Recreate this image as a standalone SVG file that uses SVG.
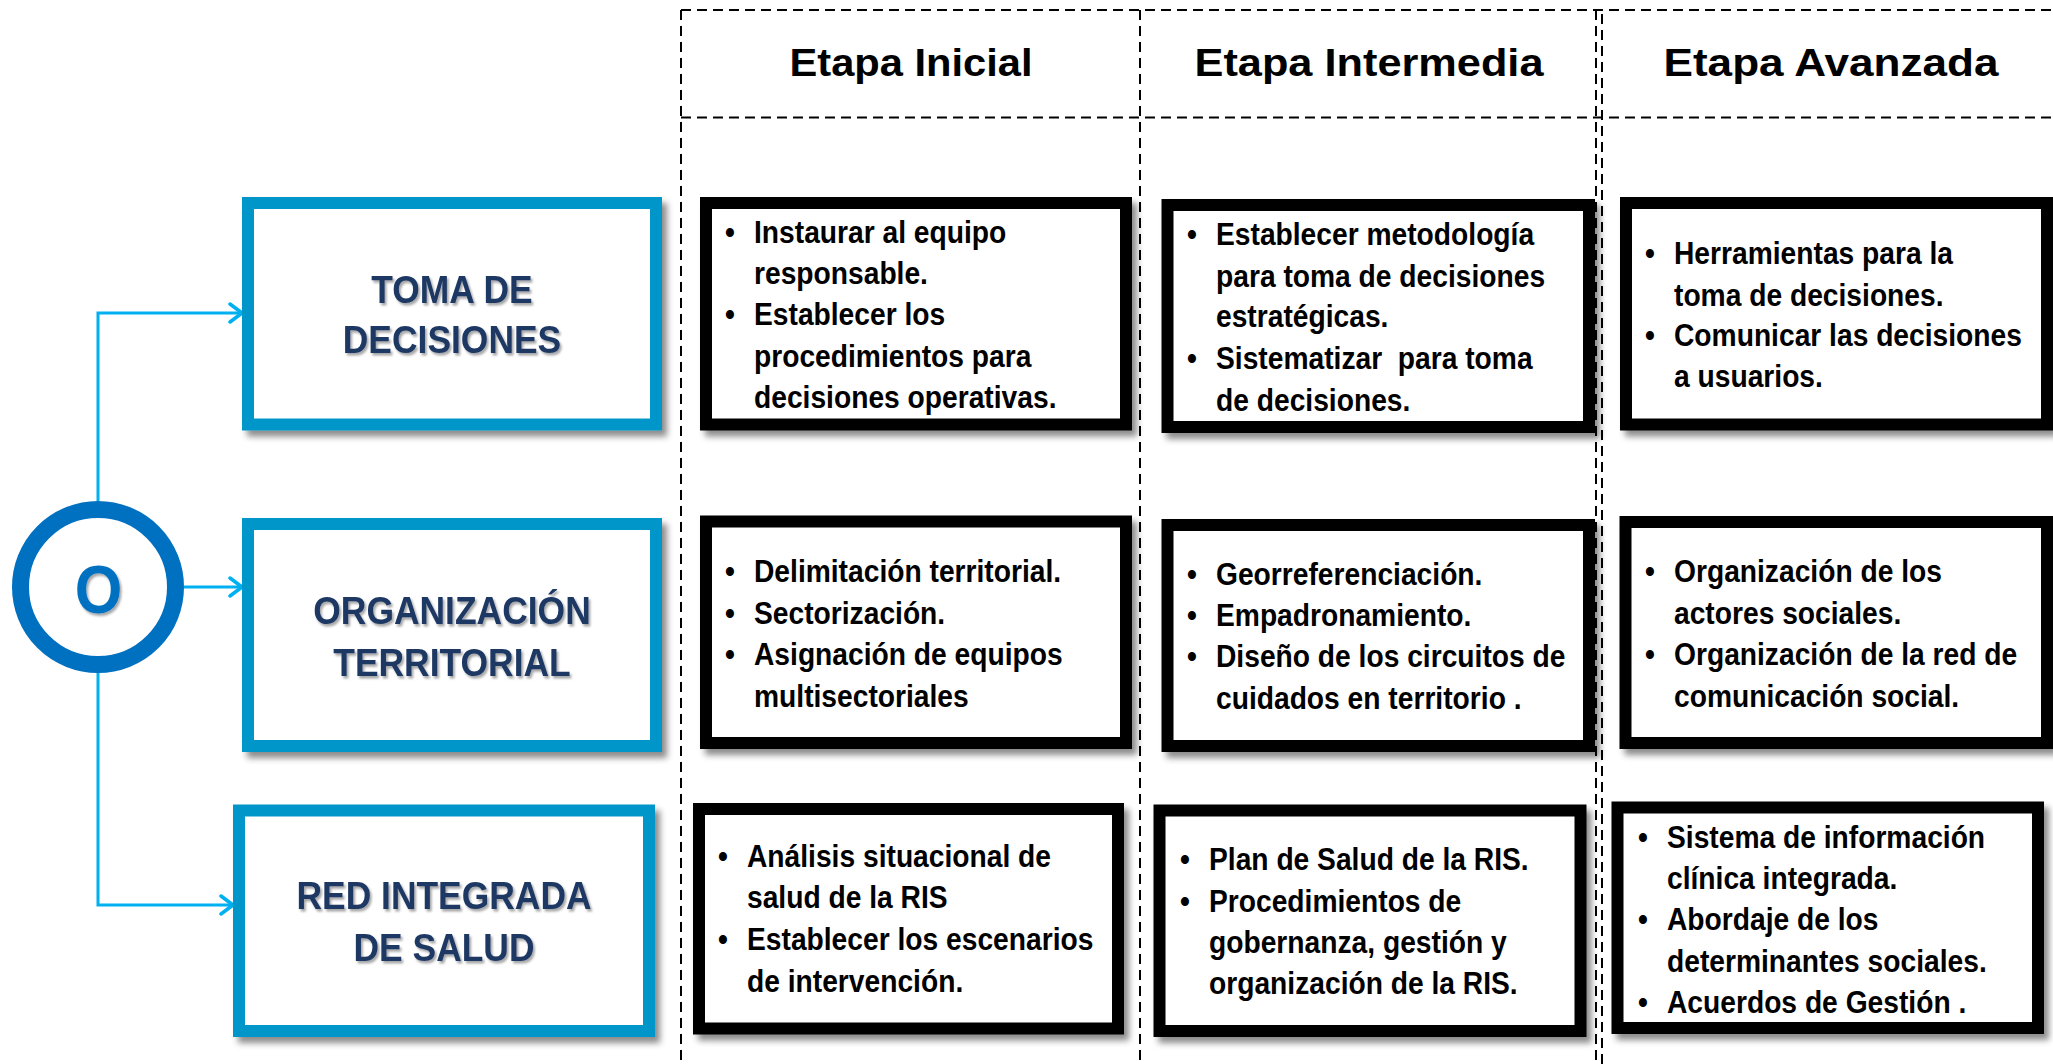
<svg xmlns="http://www.w3.org/2000/svg" width="2053" height="1064" viewBox="0 0 2053 1064">
  <defs>
    <style>
      .grid { stroke:#000; stroke-width:2; stroke-dasharray:10 6; fill:none; }
      .hdr { font-family:"Liberation Sans", Arial, sans-serif; font-weight:bold; font-size:38.5px; fill:#000; text-anchor:middle; }
      .bluebox { fill:#fff; stroke:#0096C9; stroke-width:12; filter:url(#shadow); }
      .blackbox { fill:#fff; stroke:#000; stroke-width:12; filter:url(#shadow); }
      .ttl { font-family:"Liberation Sans", Arial, sans-serif; font-weight:bold; font-size:38.5px; fill:#1F3864; text-anchor:middle; filter:url(#tshadow); }
      .b { font-family:"Liberation Sans", Arial, sans-serif; font-weight:bold; font-size:31px; fill:#000; white-space:pre; }
      .conn { fill:none; stroke:#00B0F0; stroke-width:3; }
    </style>
    <filter id="shadow" x="-5%" y="-5%" width="115%" height="120%">
      <feDropShadow dx="5" dy="6" stdDeviation="3" flood-color="#000" flood-opacity="0.45"/>
    </filter>
    <filter id="tshadow" x="-10%" y="-20%" width="120%" height="150%">
      <feDropShadow dx="2" dy="2.5" stdDeviation="1.3" flood-color="#000" flood-opacity="0.35"/>
    </filter>
    <marker id="arrow" viewBox="0 0 16 22" refX="14" refY="11" markerWidth="16" markerHeight="22" markerUnits="userSpaceOnUse" orient="auto">
      <path d="M2,2 L14,11 L2,20" fill="none" stroke="#00B0F0" stroke-width="3.5" stroke-linecap="round" stroke-linejoin="round"/>
    </marker>
  </defs>

  <rect width="2053" height="1064" fill="#fff"/>

  <!-- grid -->
  <g id="grid">
    <line class="grid" x1="681" y1="10" x2="2053" y2="10"/>
    <line class="grid" x1="681" y1="117.5" x2="2053" y2="117.5"/>
    <line class="grid" x1="681" y1="10" x2="681" y2="1064"/>
    <line class="grid" x1="1140" y1="10" x2="1140" y2="1064"/>
    <line class="grid" x1="1596" y1="10" x2="1596" y2="1064"/>
    <line class="grid" x1="1602" y1="14" x2="1602" y2="1064"/>
  </g>

  <!-- headers -->
  <g id="headers">
    <text class="hdr" x="911" y="76" textLength="243" lengthAdjust="spacingAndGlyphs">Etapa Inicial</text>
    <text class="hdr" x="1369" y="76" textLength="349" lengthAdjust="spacingAndGlyphs">Etapa Intermedia</text>
    <text class="hdr" x="1831" y="76" textLength="335" lengthAdjust="spacingAndGlyphs">Etapa Avanzada</text>
  </g>

  <!-- connectors -->
  <g id="connectors">
    <path class="conn" d="M98,501 V313 H242" marker-end="url(#arrow)"/>
    <path class="conn" d="M184,587 H242" marker-end="url(#arrow)"/>
    <path class="conn" d="M98,673 V905 H233" marker-end="url(#arrow)"/>
  </g>

  <!-- origin circle -->
  <g id="node-origin">
    <circle cx="98" cy="587" r="77.5" fill="#fff" stroke="#0070C0" stroke-width="17"/>
    <text transform="translate(98.5 0) scale(0.9 1)" x="0" y="613" font-family="'Liberation Sans', Arial, sans-serif" font-weight="bold" font-size="68" fill="#0070C0" text-anchor="middle" filter="url(#tshadow)">O</text>
  </g>

  <!-- row labels -->
  <g id="node-toma">
    <rect class="bluebox" x="248" y="203" width="408" height="221.5"/>
    <text class="ttl" transform="translate(452 0) scale(0.92 1)" x="0" y="303">TOMA DE</text>
    <text class="ttl" transform="translate(452 0) scale(0.92 1)" x="0" y="353">DECISIONES</text>
  </g>
  <g id="node-organizacion">
    <rect class="bluebox" x="248" y="524" width="408" height="222"/>
    <text class="ttl" transform="translate(452 0) scale(0.92 1)" x="0" y="624">ORGANIZACIÓN</text>
    <text class="ttl" transform="translate(452 0) scale(0.92 1)" x="0" y="676">TERRITORIAL</text>
  </g>
  <g id="node-red">
    <rect class="bluebox" x="239" y="810.5" width="410" height="220.5"/>
    <text class="ttl" transform="translate(444 0) scale(0.92 1)" x="0" y="909">RED INTEGRADA</text>
    <text class="ttl" transform="translate(444 0) scale(0.92 1)" x="0" y="961">DE SALUD</text>
  </g>

  <!-- row 1 -->
  <g id="node-toma-inicial">
    <rect class="blackbox" x="706" y="203" width="420" height="221.5"/>
    <g transform="translate(754 0) scale(0.91 1)">
      <text class="b"><tspan x="-32" y="243">•</tspan><tspan x="0" y="243">Instaurar al equipo</tspan><tspan x="0" y="284">responsable.</tspan><tspan x="-32" y="325.5">•</tspan><tspan x="0" y="325.5">Establecer los</tspan><tspan x="0" y="367">procedimientos para</tspan><tspan x="0" y="408">decisiones operativas.</tspan></text>
    </g>
  </g>
  <g id="node-toma-intermedia">
    <rect class="blackbox" x="1167.5" y="205" width="421.5" height="222"/>
    <g transform="translate(1216 0) scale(0.91 1)">
      <text class="b"><tspan x="-32" y="245.5">•</tspan><tspan x="0" y="245.5">Establecer metodología</tspan><tspan x="0" y="287">para toma de decisiones</tspan><tspan x="0" y="327.5">estratégicas.</tspan><tspan x="-32" y="369.5">•</tspan><tspan x="0" y="369.5">Sistematizar  para toma</tspan><tspan x="0" y="411.5">de decisiones.</tspan></text>
    </g>
  </g>
  <g id="node-toma-avanzada">
    <rect class="blackbox" x="1626" y="203" width="421" height="221.5"/>
    <g transform="translate(1674 0) scale(0.91 1)">
      <text class="b"><tspan x="-32" y="264.5">•</tspan><tspan x="0" y="264.5">Herramientas para la</tspan><tspan x="0" y="306">toma de decisiones.</tspan><tspan x="-32" y="346.5">•</tspan><tspan x="0" y="346.5">Comunicar las decisiones</tspan><tspan x="0" y="387.5">a usuarios.</tspan></text>
    </g>
  </g>

  <!-- row 2 -->
  <g id="node-org-inicial">
    <rect class="blackbox" x="706" y="521.5" width="420" height="221.5"/>
    <g transform="translate(754 0) scale(0.91 1)">
      <text class="b"><tspan x="-32" y="582.5">•</tspan><tspan x="0" y="582.5">Delimitación territorial.</tspan><tspan x="-32" y="624">•</tspan><tspan x="0" y="624">Sectorización.</tspan><tspan x="-32" y="665.5">•</tspan><tspan x="0" y="665.5">Asignación de equipos</tspan><tspan x="0" y="707">multisectoriales</tspan></text>
    </g>
  </g>
  <g id="node-org-intermedia">
    <rect class="blackbox" x="1167.5" y="525" width="421.5" height="221"/>
    <g transform="translate(1216 0) scale(0.91 1)">
      <text class="b"><tspan x="-32" y="585">•</tspan><tspan x="0" y="585">Georreferenciación.</tspan><tspan x="-32" y="626">•</tspan><tspan x="0" y="626">Empadronamiento.</tspan><tspan x="-32" y="667.5">•</tspan><tspan x="0" y="667.5">Diseño de los circuitos de</tspan><tspan x="0" y="709">cuidados en territorio .</tspan></text>
    </g>
  </g>
  <g id="node-org-avanzada">
    <rect class="blackbox" x="1625.5" y="522" width="421.5" height="221"/>
    <g transform="translate(1674 0) scale(0.91 1)">
      <text class="b"><tspan x="-32" y="582.5">•</tspan><tspan x="0" y="582.5">Organización de los</tspan><tspan x="0" y="624">actores sociales.</tspan><tspan x="-32" y="665.5">•</tspan><tspan x="0" y="665.5">Organización de la red de</tspan><tspan x="0" y="707">comunicación social.</tspan></text>
    </g>
  </g>

  <!-- row 3 -->
  <g id="node-red-inicial">
    <rect class="blackbox" x="699" y="809" width="419" height="219.5"/>
    <g transform="translate(747 0) scale(0.91 1)">
      <text class="b"><tspan x="-32" y="867">•</tspan><tspan x="0" y="867">Análisis situacional de</tspan><tspan x="0" y="908.5">salud de la RIS</tspan><tspan x="-32" y="950">•</tspan><tspan x="0" y="950">Establecer los escenarios</tspan><tspan x="0" y="992">de intervención.</tspan></text>
    </g>
  </g>
  <g id="node-red-intermedia">
    <rect class="blackbox" x="1159.5" y="810.5" width="421" height="220.5"/>
    <g transform="translate(1209 0) scale(0.91 1)">
      <text class="b"><tspan x="-32" y="870.5">•</tspan><tspan x="0" y="870.5">Plan de Salud de la RIS.</tspan><tspan x="-32" y="912">•</tspan><tspan x="0" y="912">Procedimientos de</tspan><tspan x="0" y="953.5">gobernanza, gestión y</tspan><tspan x="0" y="994.5">organización de la RIS.</tspan></text>
    </g>
  </g>
  <g id="node-red-avanzada">
    <rect class="blackbox" x="1617.5" y="807.5" width="420.5" height="220.5"/>
    <g transform="translate(1667 0) scale(0.91 1)">
      <text class="b"><tspan x="-32" y="848.5">•</tspan><tspan x="0" y="848.5">Sistema de información</tspan><tspan x="0" y="889">clínica integrada.</tspan><tspan x="-32" y="930.5">•</tspan><tspan x="0" y="930.5">Abordaje de los</tspan><tspan x="0" y="972">determinantes sociales.</tspan><tspan x="-32" y="1013">•</tspan><tspan x="0" y="1013">Acuerdos de Gestión .</tspan></text>
    </g>
  </g>
</svg>
